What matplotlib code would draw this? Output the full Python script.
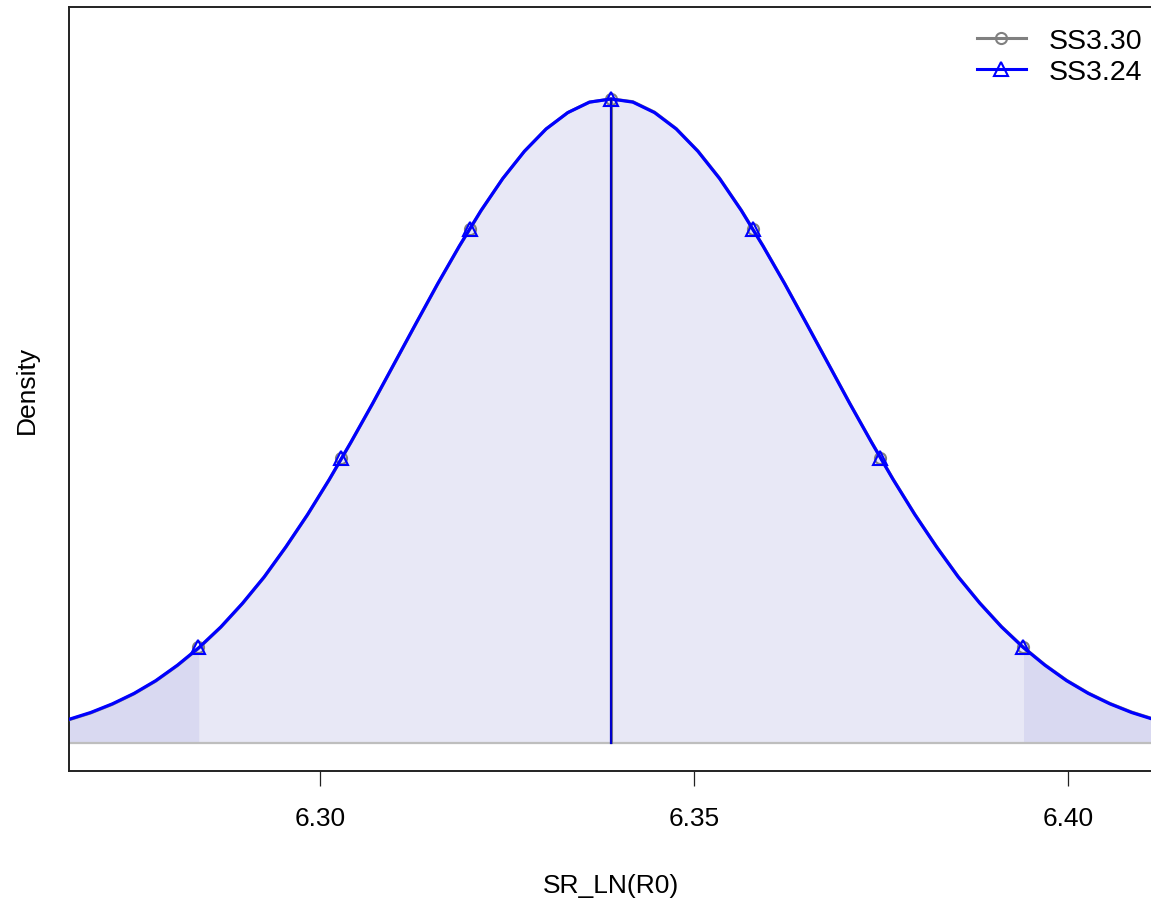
import numpy as np
import matplotlib
matplotlib.use("Agg")
import matplotlib.pyplot as plt
from matplotlib.lines import Line2D

plt.rcParams['font.family'] = ['Liberation Sans', 'DejaVu Sans']

# x grid for the density curve
x_vals = [6.2664, 6.2693, 6.2722, 6.2751, 6.2780, 6.2809, 6.2838, 6.2867, 6.2896, 6.2925,
          6.2954, 6.2983, 6.3012, 6.3041, 6.3070, 6.3099, 6.3128, 6.3157, 6.3186, 6.3215,
          6.3244, 6.3273, 6.3302, 6.3331, 6.3360, 6.3389, 6.3418, 6.3447, 6.3476, 6.3505,
          6.3534, 6.3563, 6.3592, 6.3621, 6.3650, 6.3679, 6.3708, 6.3737, 6.3766, 6.3795,
          6.3824, 6.3853, 6.3882, 6.3911, 6.3940, 6.3969, 6.3998, 6.4027, 6.4056, 6.4085,
          6.4114]

# density SS3.24 (blue)
dens_324 = [0.52, 0.67, 0.86, 1.09, 1.37, 1.71, 2.10, 2.55, 3.07, 3.65,
            4.31, 5.02, 5.79, 6.61, 7.46, 8.34, 9.22, 10.09, 10.92, 11.70,
            12.40, 13.00, 13.49, 13.85, 14.08, 14.15, 14.08, 13.85, 13.49, 13.00,
            12.40, 11.70, 10.92, 10.09, 9.22, 8.34, 7.46, 6.61, 5.79, 5.02,
            4.31, 3.65, 3.07, 2.55, 2.10, 1.71, 1.37, 1.09, 0.86, 0.67,
            0.52]

# density SS3.30 (grey), almost identical
dens_330 = [0.51, 0.66, 0.85, 1.08, 1.36, 1.70, 2.09, 2.54, 3.06, 3.64,
            4.30, 5.01, 5.78, 6.60, 7.45, 8.33, 9.21, 10.08, 10.91, 11.69,
            12.40, 13.00, 13.49, 13.85, 14.08, 14.15, 14.09, 13.86, 13.50, 13.01,
            12.41, 11.71, 10.93, 10.10, 9.23, 8.35, 7.47, 6.62, 5.80, 5.03,
            4.32, 3.66, 3.08, 2.56, 2.11, 1.72, 1.38, 1.10, 0.87, 0.68,
            0.53]

# marker positions along the curves
mark_x = [6.2836, 6.3028, 6.3200, 6.3389, 6.3579, 6.3748, 6.3940]
mark_y = [2.11, 6.27, 11.30, 14.15, 11.30, 6.27, 2.11]

est_324 = 6.3389
est_330 = 6.3390
lo_324, hi_324 = 6.2838, 6.3940

x = np.array(x_vals)
y24 = np.array(dens_324)
y30 = np.array(dens_330)

fig = plt.figure(figsize=(11.51, 9.03), dpi=100)
ax = fig.add_axes([69/1151, 131/903, 1 - 69/1151 + 0.002, 764/903])

mid_col = '#E8E8F6'
tail_col = '#D9D9F1'
inside = (x >= lo_324) & (x <= hi_324)
ax.fill_between(x, 0, y24, where=inside, color=mid_col, lw=0)
ax.fill_between(x, 0, y24, where=(x <= lo_324), color=tail_col, lw=0)
ax.fill_between(x, 0, y24, where=(x >= hi_324), color=tail_col, lw=0)

ax.axhline(0, color='#BEBEBE', lw=1.6, zorder=2)

# grey: SS3.30
ax.plot(x, y30, color='#808080', lw=2.2, zorder=3, solid_joinstyle='round')
ax.plot([est_330, est_330], [0, max(dens_330)], color='#808080', lw=1.5, zorder=3)
ax.plot(mark_x, mark_y, ls='none', marker='o', ms=8, mfc='none', mec='#808080', mew=1.5, zorder=3)

# blue: SS3.24
ax.plot(x, y24, color='#0000FF', lw=2.3, zorder=4, solid_joinstyle='round')
ax.plot([est_324, est_324], [0, max(dens_324)], color='#0000CC', lw=1.6, zorder=4)
ax.plot(mark_x, mark_y, ls='none', marker='^', ms=10, mfc='none', mec='#0000FF', mew=1.5, zorder=5)

ax.set_xlim(6.2664, 6.4114)
ax.set_ylim(-0.615, 16.17)

ax.set_xticks([6.30, 6.35, 6.40])
ax.set_xticklabels(['6.30', '6.35', '6.40'], fontsize=19)
ax.set_yticks([])
ax.tick_params(axis='x', length=10.5, width=0.9, pad=15, color='#222222')
for s in ax.spines.values():
    s.set_linewidth(1.4)
    s.set_color('#222222')

ax.set_xlabel('SR_LN(R0)', fontsize=19, labelpad=31)
ax.set_ylabel('Density', fontsize=19, labelpad=22)

handles = [Line2D([], [], color='#808080', lw=2.2, marker='o', ms=8, mfc='none', mew=1.5),
           Line2D([], [], color='#0000FF', lw=2.2, marker='^', ms=10, mfc='none', mew=1.5)]
ax.legend(handles, ['SS3.30', 'SS3.24'], loc='upper right', bbox_to_anchor=(1.0, 0.987),
          frameon=False, fontsize=20.5, handlelength=1.7, handletextpad=0.8,
          labelspacing=0.18, borderaxespad=0)

fig.savefig('out.png', dpi=100)
